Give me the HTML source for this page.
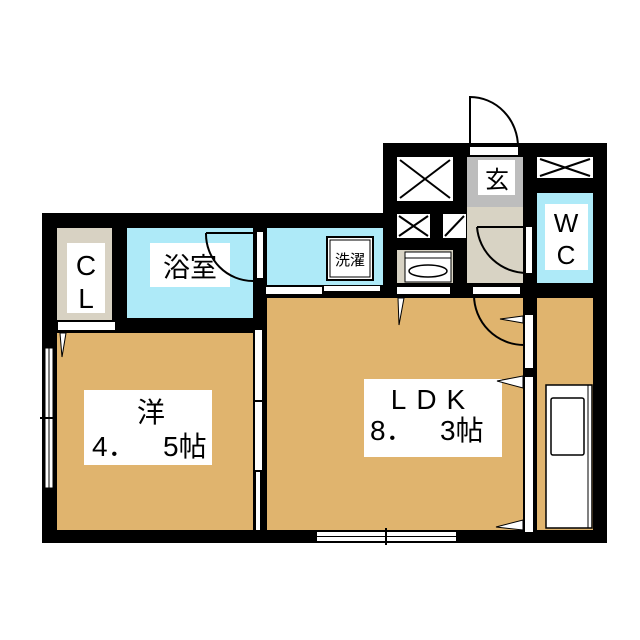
<!DOCTYPE html><html><head><meta charset="utf-8"><style>body{margin:0;background:#fff}svg{display:block}text{font-family:"Liberation Sans","Noto Sans CJK JP",sans-serif;fill:#000}</style></head><body>
<svg width="640" height="640" viewBox="0 0 640 640" xmlns="http://www.w3.org/2000/svg">
<rect width="640" height="640" fill="#fff"/>
<polygon points="42,213 383,213 383,143 607,143 607,543 42,543" fill="#000"/>
<!-- CL -->
<rect x="57" y="228" width="55" height="92" fill="#d8d2c3"/>
<rect x="67" y="243" width="38" height="70" fill="#fff"/>
<text x="86" y="275" font-size="28" text-anchor="middle">C</text>
<text x="86" y="308" font-size="28" text-anchor="middle">L</text>
<rect x="58" y="322" width="57" height="8" fill="#fff"/>
<!-- Bath -->
<rect x="127" y="228" width="126" height="90" fill="#aeeaf8"/>
<rect x="150" y="243" width="80" height="44" fill="#fff"/>
<text x="190" y="277" font-size="27" text-anchor="middle">浴室</text>
<path d="M206,233 H253 M206,233 A47,47 0 0 0 253,281" fill="none" stroke="#000" stroke-width="2"/>
<rect x="257" y="232" width="6" height="46" fill="#fff"/>
<!-- Wash -->
<rect x="267" y="228" width="116" height="57" fill="#aeeaf8"/>
<rect x="327" y="237" width="46" height="43" fill="#fff" stroke="#000" stroke-width="2"/>
<rect x="330" y="240" width="40" height="37" fill="none" stroke="#000" stroke-width="1"/>
<text x="350" y="265" font-size="15" text-anchor="middle">洗濯</text>
<rect x="266" y="287" width="56" height="7" fill="#fff"/>
<rect x="324" y="286" width="56" height="5" fill="#fff"/>
<!-- Yo -->
<rect x="57" y="333" width="196" height="197" fill="#e0b46e"/>
<rect x="84" y="390" width="128" height="75" fill="#fff"/>
<text x="151" y="422" font-size="28" text-anchor="middle">洋</text>
<text x="92" y="456" font-size="28">4．</text>
<text x="163" y="456" font-size="28">5帖</text>
<rect x="45" y="348" width="8" height="140" fill="#fff" stroke="#000" stroke-width="1"/>
<line x1="49" y1="348" x2="49" y2="488" stroke="#000"/>
<line x1="40" y1="418" x2="56" y2="418" stroke="#000" stroke-width="2"/>
<rect x="255" y="330" width="7" height="70" fill="#fff"/>
<rect x="255" y="402" width="7" height="68" fill="#fff"/>
<rect x="256" y="472" width="4" height="58" fill="#fff"/>
<polygon points="60,333 66,333 62,357" fill="#fff" stroke="#000" stroke-width="1"/>
<!-- LDK -->
<rect x="267" y="298" width="256" height="232" fill="#e0b46e"/>
<rect x="364" y="379" width="138" height="78" fill="#fff"/>
<text x="433" y="409" font-size="28" text-anchor="middle" letter-spacing="10">LDK</text>
<text x="370" y="440" font-size="28">8．</text>
<text x="440" y="440" font-size="28">3帖</text>
<rect x="317" y="532" width="139" height="9" fill="#fff"/>
<line x1="317" y1="536.5" x2="456" y2="536.5" stroke="#000"/>
<line x1="386" y1="528" x2="386" y2="545" stroke="#000" stroke-width="2"/>
<rect x="525" y="315" width="8" height="53" fill="#fff"/>
<rect x="525" y="377" width="8" height="155" fill="#fff"/>
<polygon points="398,298 404,298 399,325" fill="#fff" stroke="#000" stroke-width="1"/>
<polygon points="523,316 523,323 500,319" fill="#fff" stroke="#000" stroke-width="1"/>
<polygon points="523,376 523,388 497,381" fill="#fff" stroke="#000" stroke-width="1"/>
<polygon points="523,520 523,530 496,527" fill="#fff" stroke="#000" stroke-width="1"/>
<path d="M474,295 A50,50 0 0 0 524,345" fill="none" stroke="#000" stroke-width="2"/>
<!-- right column -->
<rect x="537" y="298" width="56" height="232" fill="#e0b46e"/>
<rect x="546" y="385" width="46" height="143" fill="#fff" stroke="#000" stroke-width="1.5"/>
<line x1="588" y1="385" x2="588" y2="528" stroke="#000"/>
<rect x="551" y="398" width="33" height="57" rx="2" fill="#fff" stroke="#000" stroke-width="1.5"/>
<!-- top right -->
<rect x="397" y="157" width="56" height="44" fill="#fff"/>
<path d="M400,160 L450,198 M450,160 L400,198" stroke="#000" stroke-width="2"/>
<rect x="537" y="157" width="56" height="21" fill="#fff"/>
<path d="M540,159 L590,176 M590,159 L540,176" stroke="#000" stroke-width="2"/>
<rect x="467" y="157" width="56" height="50" fill="#bdbdbd"/>
<rect x="478" y="160" width="37" height="35" fill="#fff"/>
<text x="497" y="188" font-size="24" text-anchor="middle">玄</text>
<rect x="467" y="207" width="56" height="76" fill="#d8d3c4"/>
<path d="M477,227 H527 M477,227 A50,50 0 0 0 527,273" fill="none" stroke="#000" stroke-width="2"/>
<rect x="526" y="227" width="6" height="46" fill="#fff"/>
<rect x="537" y="193" width="56" height="90" fill="#aeeaf8"/>
<rect x="545" y="204" width="43" height="66" fill="#fff"/>
<text x="566" y="232" font-size="26" text-anchor="middle">W</text>
<text x="566" y="264" font-size="26" text-anchor="middle">C</text>
<rect x="397" y="214" width="33" height="24" fill="#fff"/>
<path d="M399,216 L428,236 M428,216 L399,236" stroke="#000" stroke-width="2"/>
<rect x="443" y="214" width="23" height="24" fill="#fff"/>
<line x1="445" y1="236" x2="464" y2="216" stroke="#000" stroke-width="2"/>
<rect x="397" y="250" width="56" height="33" fill="#d8d3c4"/>
<rect x="405" y="252" width="46" height="30" fill="#fff" stroke="#000" stroke-width="1"/>
<line x1="405" y1="258" x2="451" y2="258" stroke="#000"/>
<ellipse cx="428" cy="271" rx="19" ry="6" fill="#fff" stroke="#000" stroke-width="1.5"/>
<rect x="397" y="287" width="53" height="7" fill="#fff"/>
<rect x="473" y="287" width="47" height="7" fill="#fff"/>
<rect x="470" y="147" width="48" height="8" fill="#fff"/>
<path d="M470,147 V97 A48,50 0 0 1 518,147" fill="none" stroke="#000" stroke-width="2"/>
</svg>
</body></html>
